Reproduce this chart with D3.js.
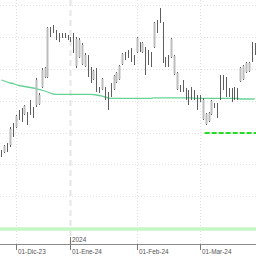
<!DOCTYPE html>
<html>
<head>
<meta charset="utf-8">
<script src="https://cdn.jsdelivr.net/npm/d3@7"></script>
<style>
  html, body { margin: 0; padding: 0; background: #fff; }
  svg { display: block; }
</style>
</head>
<body>
<svg id="chart" width="256" height="256"></svg>
<script>
// daily bars, late Nov 2023 -> late Mar 2024
const high  = [150,155,157,173,177,185,190,192,195,188,200,193,222,207,232,233,273,273,275,270,267,267,267,265,263,267,
               263,262,257,247,245,233,230,232,213,222,213,208,217,225,228,235,247,248,250,252,245,263,258,258,253,250,
               248,278,280,292,278,243,245,262,245,228,215,220,212,210,213,210,205,205,202,187,188,200,197,197,225,225,
               223,212,212,213,212,233,235,238,238,258,257];
const low   = [143,147,148,153,163,172,180,178,185,175,185,182,193,195,212,222,222,263,267,260,258,262,262,260,258,247,
               232,242,235,233,223,217,220,208,207,210,200,190,203,210,217,220,235,240,242,238,235,247,248,247,225,235,
               233,252,267,277,237,233,233,242,225,210,208,208,200,195,200,200,190,198,180,175,178,185,192,182,200,210,
               203,203,198,200,200,218,220,227,228,238,245];
const open  = [148,148,155,155,175,173,188,190,186,186,198,191,195,196,213,223,223,271,273,268,265,266,266,264,262,265,
               234,243,236,234,243,231,221,230,212,211,211,206,215,211,218,221,236,247,249,250,244,248,257,248,251,248,
               246,253,278,290,276,242,243,243,226,211,214,218,210,208,211,209,203,204,181,176,179,186,196,195,223,223,
               221,211,210,211,210,219,221,228,229,256,255];
const close = [145,154,150,171,166,184,182,181,194,177,188,184,220,205,230,232,272,265,269,262,260,263,263,261,259,250,
               261,260,255,245,226,219,229,210,208,221,202,192,205,224,227,234,246,242,244,240,237,262,250,257,228,237,
               235,277,269,279,240,235,235,261,244,227,209,210,202,197,202,202,192,199,200,186,187,199,193,184,202,212,
               205,205,200,202,202,232,234,237,237,240,247];
// moving average (green line)
const ma = [220,219,218,217,216.5,215.5,214.5,214,213.5,213,212.5,212,211.5,210.7,210,209,208,207,206,
            205.7,205.7,205.7,205.7,205.7,205.7,205.7,205.7,205.7,205.7,205.7,205.7,205.7,205.4,205,204.5,203.8,203,202.2,
            201.7,201.7,201.7,201.7,201.7,201.7,201.7,201.7,201.7,201.7,201.7,201.7,201.7,201.7,201.7,
            202.2,202.2,202.2,202.2,202.2,202.2,202.2,202.2,202.2,202.2,202.2,202.2,202.2,202.2,
            201.7,201.7,201.7,201.7,201.7,201.7,201.7,201.7,201.7,201.7,201.7,201.7,201.7,201.7,201.7,201.7,
            201,201,201,201,201,201];
const supportLevel = 167;     // dashed green level
const supportStart = 71;      // bar index where it starts
const floorLevel = 71;        // light green band near the bottom
const gridLevels = [295, 263, 231, 199, 167, 136, 104];
const tickIdx = [5, 24, 47, 69];
const tickLabels = ["01-Dic-23", "01-Ene-24", "01-Feb-24", "01-Mar-24"];
const yearIdx = 24;
const yearLabel = "2024";

const W = 256, axisY = 244;
const svg = d3.select("#chart");

const x = d3.scaleLinear().domain([-0.5, high.length - 0.5]).range([0, W]);
const y = d3.scaleLinear().domain([56, 300]).range([axisY, 0]);
const px = v => Math.round(x(v)) + 0.5;

// horizontal grid
svg.append("g").selectAll("line").data(gridLevels).join("line")
  .attr("x1", 0).attr("x2", W)
  .attr("y1", d => Math.round(y(d)) + 0.5).attr("y2", d => Math.round(y(d)) + 0.5)
  .attr("stroke", "#e0e0e0").attr("stroke-dasharray", "1,2");

// vertical grid at month starts
svg.append("g").selectAll("line").data(tickIdx.filter(d => d !== yearIdx)).join("line")
  .attr("x1", d => px(d)).attr("x2", d => px(d))
  .attr("y1", 0).attr("y2", axisY)
  .attr("stroke", "#e0e0e0").attr("stroke-dasharray", "1,2");
svg.append("line")
  .attr("x1", px(yearIdx)).attr("x2", px(yearIdx))
  .attr("y1", 0).attr("y2", axisY)
  .attr("stroke", "#e6e6e6").attr("stroke-width", 2).attr("stroke-dasharray", "6,4");

// light green band
svg.append("line")
  .attr("x1", 0).attr("x2", W)
  .attr("y1", y(floorLevel)).attr("y2", y(floorLevel))
  .attr("stroke", "#c6f6c6").attr("stroke-width", 3.5);

// moving average
svg.append("path")
  .datum(ma)
  .attr("d", d3.line().x((d, i) => x(i)).y(d => y(d)))
  .attr("fill", "none").attr("stroke", "#66d394").attr("stroke-width", 1.3);

// support dashes
svg.append("line")
  .attr("x1", x(supportStart) - 1).attr("x2", W)
  .attr("y1", y(supportLevel)).attr("y2", y(supportLevel))
  .attr("stroke", "#22dd22").attr("stroke-width", 2).attr("stroke-dasharray", "5,2");

// bars
const bars = svg.append("g").selectAll("g").data(high.map((h, i) => i)).join("g");
bars.append("line")
  .attr("x1", i => px(i)).attr("x2", i => px(i))
  .attr("y1", i => y(high[i])).attr("y2", i => y(low[i]))
  .attr("stroke", "#5e5e5e");
bars.filter(i => close[i] > open[i]).append("rect")
  .attr("x", i => px(i) - 1).attr("width", 2)
  .attr("y", i => y(close[i])).attr("height", i => y(open[i]) - y(close[i]))
  .attr("fill", "#bdbdbd");

// x axis
svg.append("line")
  .attr("x1", 0).attr("x2", W).attr("y1", axisY + 0.5).attr("y2", axisY + 0.5)
  .attr("stroke", "#8a8a8a");
svg.append("g").selectAll("line").data(tickIdx).join("line")
  .attr("x1", d => px(d)).attr("x2", d => px(d))
  .attr("y1", d => d === yearIdx ? axisY - 7 : axisY)
  .attr("y2", axisY + 6)
  .attr("stroke", "#777");
svg.append("g").selectAll("text").data(tickIdx).join("text")
  .attr("x", d => px(d) + 1.5).attr("y", 254)
  .attr("font-family", "Liberation Sans, Arial, sans-serif")
  .attr("font-size", 6.4).attr("fill", "#555")
  .text((d, i) => tickLabels[i]);
svg.append("text")
  .attr("x", px(yearIdx) + 1.5).attr("y", axisY - 2)
  .attr("font-family", "Liberation Sans, Arial, sans-serif")
  .attr("font-size", 6.4).attr("fill", "#555")
  .text(yearLabel);
</script>
</body>
</html>
